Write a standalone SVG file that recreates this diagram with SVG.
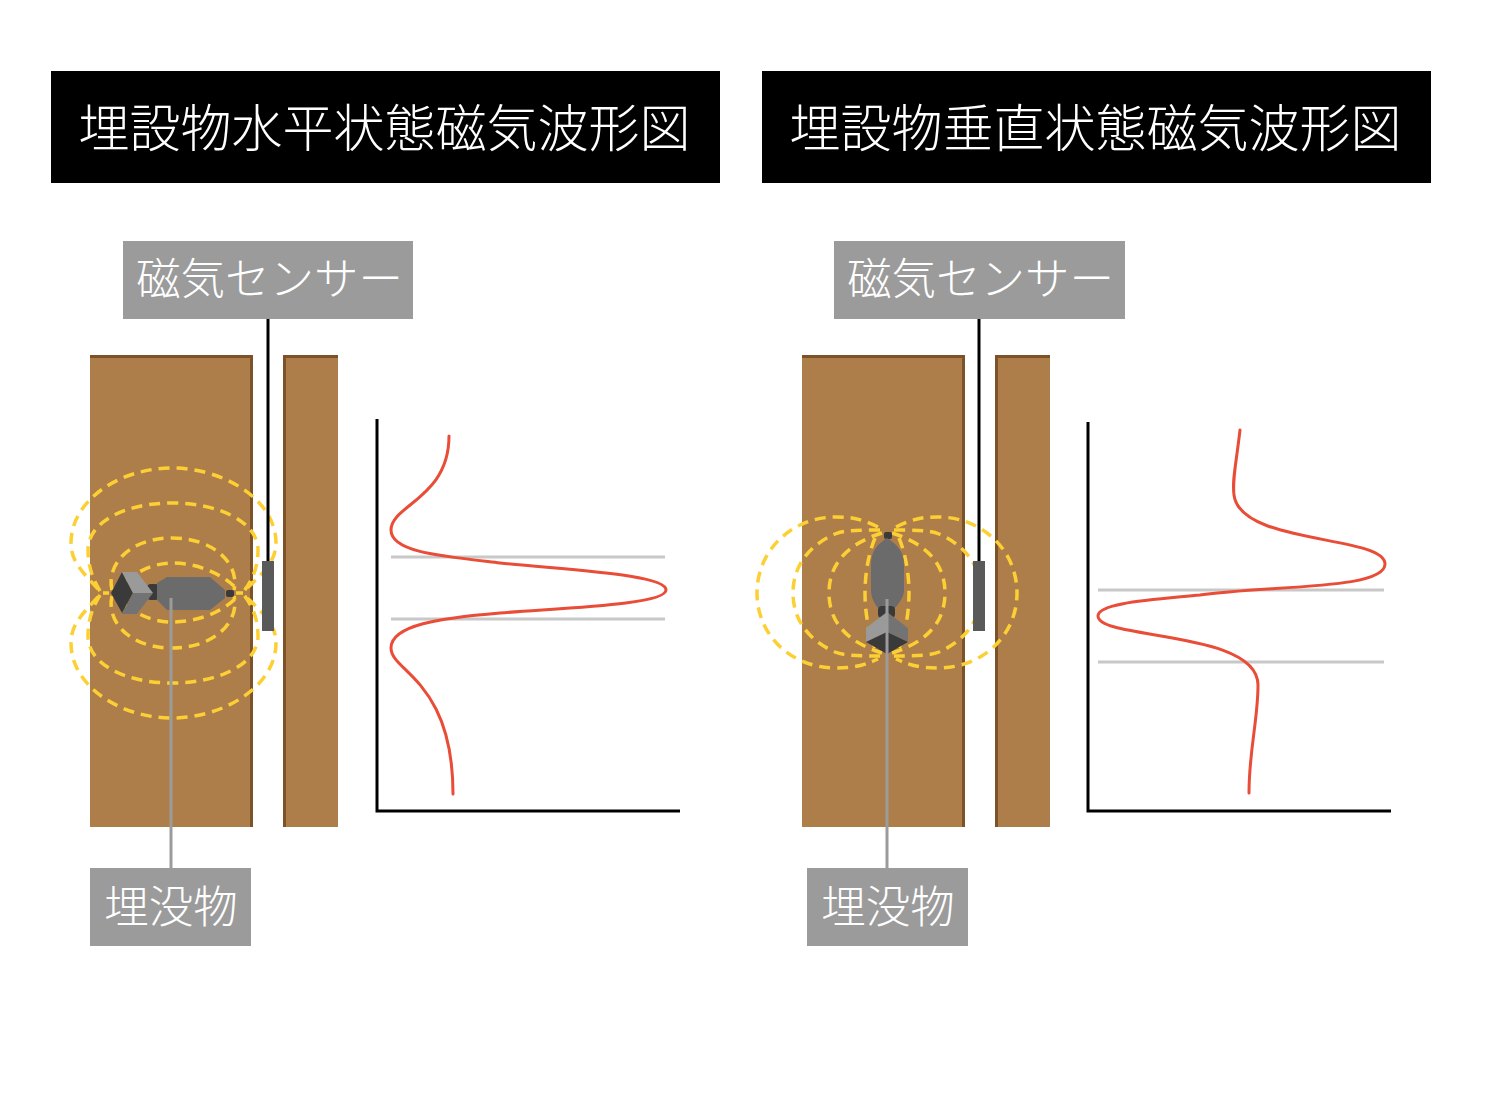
<svg xmlns="http://www.w3.org/2000/svg" width="1485" height="1099" viewBox="0 0 1485 1099">
<style>
text{font-family:"Noto Sans CJK JP","Noto Sans CJK SC",sans-serif;font-weight:300;font-size:44.5px;fill:#fff;text-anchor:middle}
text.title{font-size:51px}
.wood{fill:#ae7e4a}
.edge{fill:#7d5229}
.lab{fill:#9b9b9b}
.fld{fill:none;stroke:#fcd034;stroke-width:3.5;stroke-dasharray:11 7;stroke-linecap:butt}
.ax{fill:none;stroke:#000;stroke-width:3}
.gl{stroke:#c8c8c8;stroke-width:3;fill:none}
.curve{fill:none;stroke:#e94c37;stroke-width:3;stroke-linecap:round}
.ld{fill:none;stroke:#9b9b9b;stroke-width:3}
.blk{fill:none;stroke:#000;stroke-width:3}
.sensor{fill:#5a5a5a}
</style>
<rect width="1485" height="1099" fill="#fff"/>
<g id="title-left"><rect x="51" y="71" width="669" height="112" fill="#000"/><text class="title" x="384.500" y="147">埋設物水平状態磁気波形図</text></g>
<g id="title-right"><rect x="762" y="71" width="669" height="112" fill="#000"/><text class="title" x="1095.500" y="147">埋設物垂直状態磁気波形図</text></g>

<g id="wall-left-a"><rect class="wood" x="90" y="355" width="163" height="472"/><rect class="edge" x="90" y="355" width="163" height="3"/><rect class="edge" x="250" y="355" width="3" height="472"/></g>
<g id="wall-left-b"><rect class="wood" x="283" y="355" width="55" height="472"/><rect class="edge" x="283" y="355" width="55" height="3"/><rect class="edge" x="283" y="355" width="3" height="472"/></g>
<g id="wall-right-a"><rect class="wood" x="802" y="355" width="163" height="472"/><rect class="edge" x="802" y="355" width="163" height="3"/><rect class="edge" x="962" y="355" width="3" height="472"/></g>
<g id="wall-right-b"><rect class="wood" x="995" y="355" width="55" height="472"/><rect class="edge" x="995" y="355" width="55" height="3"/><rect class="edge" x="995" y="355" width="3" height="472"/></g>

<g id="field-left">
<path class="fld" d="M98 589C80 570 71 560 71 543C71 500 120 468 172 468C224 468 276 500 276 543C276 560 265 572 246 589"/>
<path class="fld" d="M100 591C92 578 88 565 88 550C88 522 125 503 172 503C219 503 258 522 258 550C258 565 254 578 244 591"/>
<path class="fld" d="M112 590C106 566 128 538 172 538C216 538 240 566 234 590"/>
<path class="fld" d="M125 581C140 570 155 563 172 563C195 563 220 572 236 588"/>
<path class="fld" d="M103 593H109M236 593H243"/>
<path class="fld" d="M125 605C140 616 155 622 172 622C195 622 220 614 236 598"/>
<path class="fld" d="M112 596C106 620 128 648 172 648C216 648 240 620 234 596"/>
<path class="fld" d="M100 595C92 608 88 621 88 636C88 664 125 683 172 683C219 683 258 664 258 636C258 621 254 608 244 595"/>
<path class="fld" d="M98 597C80 616 71 626 71 643C71 686 120 718 172 718C224 718 276 686 276 643C276 626 265 614 246 597"/>
</g>
<g id="field-right">
<path class="fld" d="M878 527C860 518 850 517 836 517C792 517 757 550 757 593C757 636 792 668 836 668C850 668 860 667 878 659"/>
<path class="fld" d="M880 530C860 530 845 530 835 534C810 545 793 565 793 593C793 621 810 641 835 652C845 656 860 656 880 656"/>
<path class="fld" d="M882 533C860 540 829 555 829 593C829 631 860 646 882 653"/>
<path class="fld" d="M875 538C868 555 865 575 865 593C865 611 868 631 875 648"/>
<path class="fld" d="M896 527C914 518 924 517 938 517C982 517 1017 550 1017 593C1017 636 982 668 938 668C924 668 914 667 896 659"/>
<path class="fld" d="M894 530C914 530 929 530 939 534C964 545 981 565 981 593C981 621 964 641 939 652C929 656 914 656 894 656"/>
<path class="fld" d="M892 533C914 540 945 555 945 593C945 631 914 646 892 653"/>
<path class="fld" d="M899 538C906 555 909 575 909 593C909 611 906 631 899 648"/>
</g>

<g id="object-left">
<rect x="226" y="590" width="8" height="7" rx="2" fill="#3a3a3a"/>
<rect x="147" y="584" width="12" height="16" rx="4" fill="#3a3a3a"/>
<path d="M157 583L167 577H210L225 590V598L210 610H167L157 600Z" fill="#6b6b6b"/>
<path d="M122 572L133 593L122 613L111 593Z" fill="#3a3a3a"/>
<path d="M122 572H137L153 593H133Z" fill="#9a9a9a"/>
<path d="M133 593H153L137 614H122Z" fill="#737373"/>
</g>
<g id="object-right">
<rect x="884" y="532" width="8" height="7" rx="2" fill="#3a3a3a"/>
<path d="M887 538C878 544 871 550 871 565V590C871 598 875 604 878 608H895C898 604 904 598 904 590V565C904 550 896 544 887 538Z" fill="#6b6b6b"/>
<rect x="878" y="606" width="17" height="12" rx="4" fill="#3a3a3a"/>
<path d="M887 612L866 628V642L887 632Z" fill="#9a9a9a"/>
<path d="M887 612L908 628V642L887 632Z" fill="#737373"/>
<path d="M866 642L887 632L908 642L887 654Z" fill="#3a3a3a"/>
</g>

<g id="connectors">
<path class="blk" d="M268 319V561"/>
<path class="blk" d="M979 319V561"/>
<path class="ld" d="M171 598V868"/>
<path class="ld" d="M887 599V868"/>
</g>
<g id="sensor-left"><rect class="sensor" x="262" y="561" width="12" height="70"/></g>
<g id="sensor-right"><rect class="sensor" x="973" y="561" width="12" height="70"/></g>

<g id="label-sensor-left"><rect class="lab" x="123" y="241" width="290" height="78"/><text x="269.500" y="295">磁気センサー</text></g>
<g id="label-sensor-right"><rect class="lab" x="834" y="241" width="291" height="78"/><text x="980.500" y="295">磁気センサー</text></g>
<g id="label-object-left"><rect class="lab" x="90" y="868" width="161" height="78"/><text x="171" y="923">埋没物</text></g>
<g id="label-object-right"><rect class="lab" x="807" y="868" width="161" height="78"/><text x="888" y="923">埋没物</text></g>

<g id="chart-left">
<path class="gl" d="M391 557H665M391 619H665"/>
<path class="ax" d="M377 419V811H680"/>
<path class="curve" d="M449 436C449 498 391 505 391 530C391 552 440 556 500 563C580 571 666 575 666 590C666 605 560 608 500 613C440 618 391 625 391 648C391 672 453 680 453 794"/>
</g>
<g id="chart-right">
<path class="gl" d="M1098 590H1384M1098 662H1384"/>
<path class="ax" d="M1088 422V811H1391"/>
<path class="curve" d="M1240 430C1236 465 1232 480 1234 495C1240 545 1385 535 1385 564C1385 590 1270 585 1200 595C1150 600 1098 603 1098 616C1098 640 1258 630 1258 685C1258 720 1249 750 1249 793"/>
</g>
</svg>
